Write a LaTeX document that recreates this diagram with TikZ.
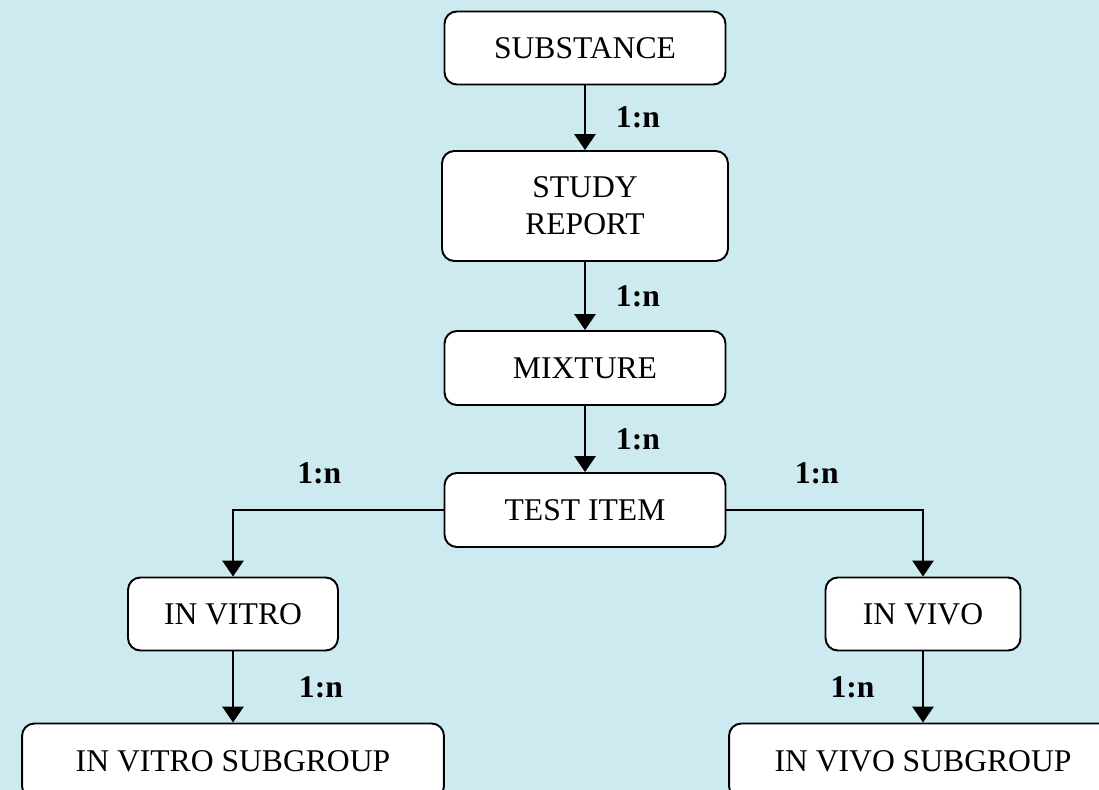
\documentclass[tikz,border=0pt]{standalone}
\usepackage{fontspec}
\setmainfont{Liberation Serif}
\usetikzlibrary{arrows.meta}
\definecolor{bgblue}{RGB}{206,234,241}

\tikzset{
  entity/.style={draw, fill=white, rounded corners=7pt, align=center,
    inner sep=0pt, font=\fontsize{18}{21}\selectfont},
  card/.style={font=\bfseries\fontsize{18}{21}\selectfont, inner sep=0pt},
}

\begin{document}
\begin{tikzpicture}[auto, x=0.02cm, y=-0.02cm, line width=1.1pt,
    >={Triangle[width=12pt,length=9pt]}]

    \clip (0,0) rectangle (1099,790);
    \fill [bgblue] (0,0) rectangle (1099,790);

    \node[entity, minimum width=5.62cm, minimum height=1.46cm] (a) at (585,48) {SUBSTANCE};
    \node[entity, minimum width=5.72cm, minimum height=2.2cm] (b) at (585,206) {STUDY\\REPORT};
    \node[entity, minimum width=5.62cm, minimum height=1.48cm] (c) at (585,368) {MIXTURE};
    \node[entity, minimum width=5.62cm, minimum height=1.48cm] (d) at (585,510) {TEST ITEM};
    \node[entity, minimum width=4.2cm, minimum height=1.46cm] (e) at (233,614) {IN VITRO};
    \node[entity, minimum width=3.9cm, minimum height=1.46cm] (f) at (923,614) {IN VIVO};
    \node[entity, minimum width=8.44cm, minimum height=1.5cm] (g) at (233,761) {IN VITRO SUBGROUP};
    \node[entity, minimum width=7.76cm, minimum height=1.5cm] (h) at (923,761) {IN VIVO SUBGROUP};

    \draw [->] (a) to node[card, xshift=0.6cm] {1:n} (b);
    \draw [->] (b) to node[card, xshift=0.6cm] {1:n} (c);
    \draw [->] (c) to node[card, xshift=0.6cm] {1:n} (d);
    \draw [->] (d) -| node[card, pos=0.295, above=0.5cm] {1:n} (e);
    \draw [->] (d) -| node[card, pos=0.23, above=0.5cm] {1:n} (f);
    \draw [->] (e) to node[card, xshift=1.3cm] {1:n} (g);
    \draw [->] (f) to node[card, swap, xshift=-0.95cm] {1:n} (h);

  \end{tikzpicture}
\end{document}
